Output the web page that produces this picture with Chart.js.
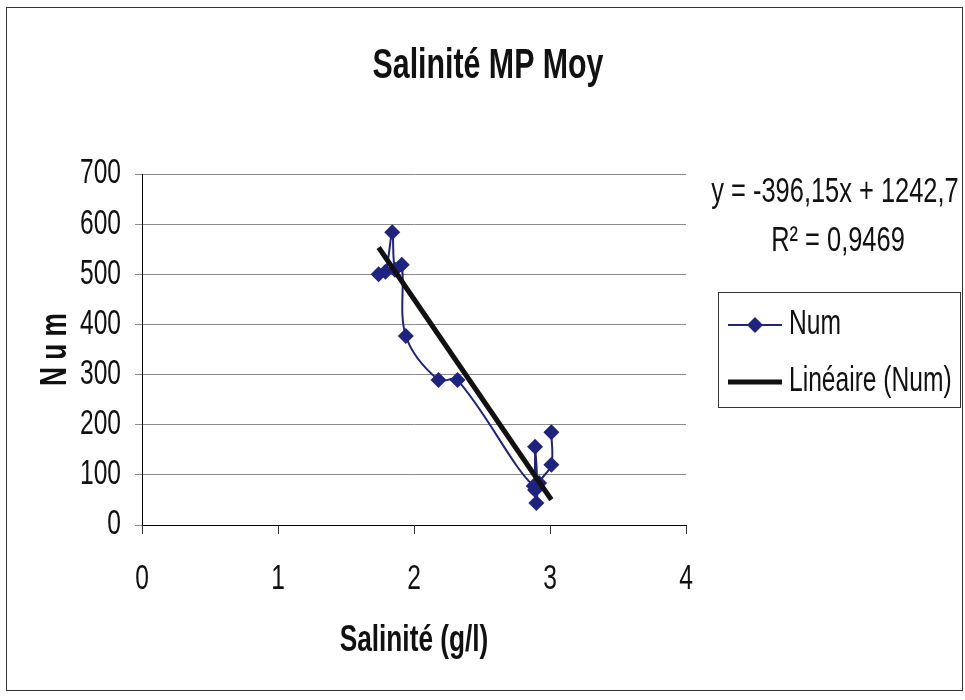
<!DOCTYPE html>
<html>
<head>
<meta charset="utf-8">
<script src="https://cdn.jsdelivr.net/npm/chart.js@4/dist/chart.umd.min.js"></script>
<style>
  html, body { margin: 0; padding: 0; background: #fff; }
  #wrap { width: 965px; height: 700px; }
</style>
</head>
<body>
<div id="wrap"><canvas id="c" width="965" height="700"></canvas></div>
<script>
// Salinity (g/l) and count per sample, in sampling order
const salinity = [1.74, 1.79, 1.84, 1.86, 1.91, 1.94, 2.18, 2.32, 2.88, 2.89, 2.89, 2.90, 2.92, 3.01, 3.01];
const num      = [500,  505,  584,  509,  519,  377,  289,  289,  78,   156,  70,   44,   84,   120,  185];

// Axis ticks
const xTicks = [0, 1, 2, 3, 4];
const yTicks = [0, 100, 200, 300, 400, 500, 600, 700];

// Linear trend as stated on the chart
const trendSlope = -396.15;
const trendIntercept = 1242.7;
const rSquared = 0.9469;

const FAM = "'Liberation Sans', Arial, sans-serif";
const NARROW = 0.82;          // horizontal squeeze for a narrow typeface look
const TALL = 1.14;            // slight vertical stretch of the lettering
const NAVY = '#1f2380';
const INK = '#111111';

const points = salinity.map((x, i) => ({ x, y: num[i] }));
const xMin = Math.min(...salinity);
const xMax = Math.max(...salinity);
const trendPoints = [xMin, xMax].map(x => ({ x, y: trendSlope * x + trendIntercept }));

const comma = v => String(v).replace('.', ',');

// Draw condensed text at (x, y), optionally rotated
function narrowText(ctx, text, x, y, font, align, rot = 0) {
  ctx.save();
  ctx.translate(x, y);
  if (rot) ctx.rotate(rot);
  ctx.scale(NARROW, TALL);
  ctx.font = font;
  ctx.textAlign = align;
  ctx.textBaseline = 'middle';
  ctx.fillText(text, 0, 0);
  ctx.restore();
}

const decor = {
  id: 'decor',
  beforeDraw(chart) {
    const ctx = chart.ctx;
    ctx.save();
    ctx.fillStyle = '#fff';
    ctx.fillRect(0, 0, chart.width, chart.height);
    ctx.strokeStyle = '#333';
    ctx.lineWidth = 1;
    ctx.strokeRect(6.5, 7.5, 956, 683);
    ctx.restore();
  },
  afterDraw(chart) {
    const ctx = chart.ctx;
    const { x: xs, y: ys } = chart.scales;
    const area = chart.chartArea;
    ctx.save();
    ctx.fillStyle = INK;

    // Title
    narrowText(ctx, 'Salinité MP Moy', 488, 66, `bold 37px ${FAM}`, 'center');

    // Tick labels, placed by the scales
    xs.ticks.forEach(t => {
      narrowText(ctx, String(t.value), xs.getPixelForValue(t.value), 580, `30px ${FAM}`, 'center');
    });
    ys.ticks.forEach(t => {
      narrowText(ctx, String(t.value), area.left - 21, ys.getPixelForValue(t.value), `30px ${FAM}`, 'right');
    });

    // Axis titles
    narrowText(ctx, 'Salinité (g/l)', (area.left + area.right) / 2, 641, `bold 32px ${FAM}`, 'center');
    narrowText(ctx, 'N u m', 56, (area.top + area.bottom) / 2, `bold 32px ${FAM}`, 'center', -Math.PI / 2);

    // Trend equation and R²
    narrowText(ctx, `y = ${comma(trendSlope)}x + ${comma(trendIntercept)}`, 835, 192, `31px ${FAM}`, 'center');
    narrowText(ctx, `R² = ${comma(rSquared)}`, 838, 241, `31px ${FAM}`, 'center');

    // Legend box
    ctx.strokeStyle = '#333';
    ctx.lineWidth = 1;
    ctx.strokeRect(718.5, 292.5, 242, 115);

    const ds = chart.data.datasets;
    ctx.strokeStyle = NAVY;
    ctx.lineWidth = 2;
    ctx.beginPath(); ctx.moveTo(728, 325); ctx.lineTo(782, 325); ctx.stroke();
    ctx.fillStyle = NAVY;
    Chart.helpers.drawPoint(ctx, { pointStyle: 'rectRot', radius: 8, rotation: 0 }, 755, 325);
    ctx.strokeStyle = INK;
    ctx.lineWidth = 5;
    ctx.beginPath(); ctx.moveTo(728, 382); ctx.lineTo(782, 382); ctx.stroke();

    ctx.fillStyle = INK;
    narrowText(ctx, ds[0].label, 789, 325, `30px ${FAM}`, 'left');
    narrowText(ctx, ds[1].label, 789, 382, `30px ${FAM}`, 'left');
    ctx.restore();
  }
};

new Chart(document.getElementById('c'), {
  type: 'scatter',
  data: {
    datasets: [
      {
        label: 'Num',
        data: points,
        showLine: true,
        tension: 0.35,
        borderColor: NAVY,
        borderWidth: 2,
        backgroundColor: NAVY,
        pointStyle: 'rectRot',
        pointRadius: 8,
        pointHoverRadius: 8,
        pointBorderWidth: 0,
        order: 1
      },
      {
        label: 'Linéaire (Num)',
        data: trendPoints,
        showLine: true,
        tension: 0,
        borderColor: INK,
        borderWidth: 5,
        pointRadius: 0,
        order: 0
      }
    ]
  },
  options: {
    responsive: false,
    animation: false,
    devicePixelRatio: 1,
    layout: { padding: { top: 174, left: 0, right: 279, bottom: 0 } },
    plugins: {
      legend: { display: false },
      title: { display: false },
      tooltip: { enabled: false }
    },
    scales: {
      x: {
        type: 'linear',
        min: 0, max: 4,
        afterBuildTicks: s => { s.ticks = xTicks.map(v => ({ value: v })); },
        afterFit: s => { s.height = 175; },
        grid: { drawOnChartArea: false, color: '#333', tickLength: 9 },
        border: { color: '#000', width: 1 },
        ticks: { display: false }
      },
      y: {
        type: 'linear',
        min: 0, max: 700,
        afterBuildTicks: s => { s.ticks = yTicks.map(v => ({ value: v })); },
        afterFit: s => { s.width = 142; },
        grid: { color: '#8a8a8a', lineWidth: 1, tickLength: 7 },
        border: { color: '#000', width: 1 },
        ticks: { display: false }
      }
    }
  },
  plugins: [decor]
});
</script>
</body>
</html>
